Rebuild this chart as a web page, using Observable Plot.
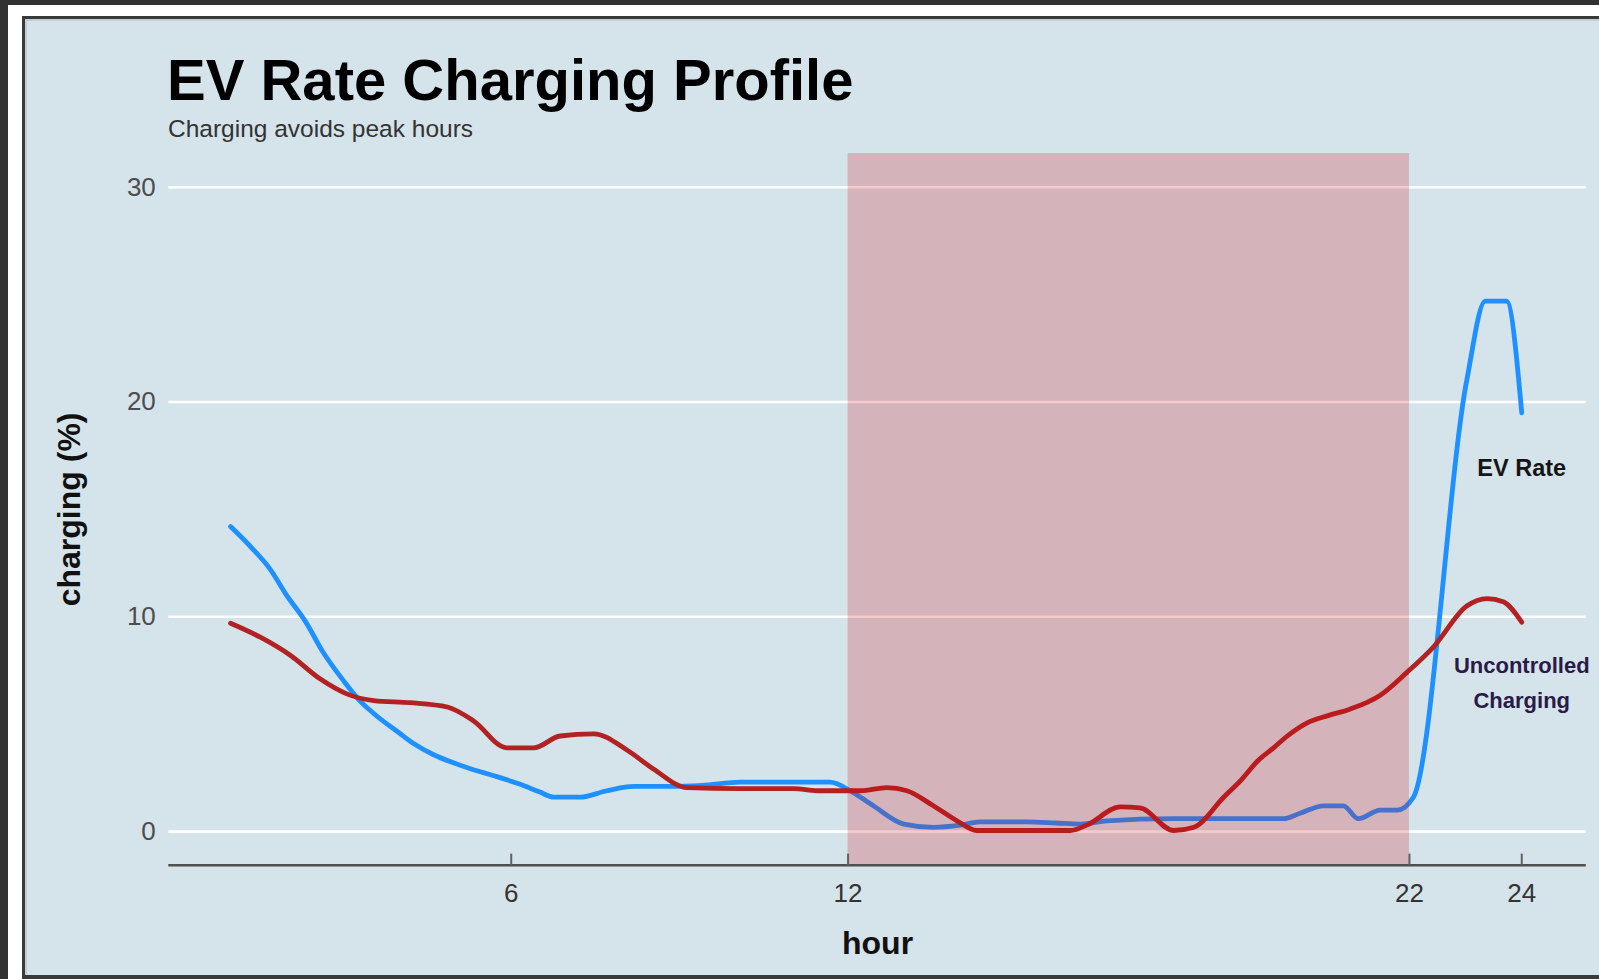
<!DOCTYPE html>
<html>
<head>
<meta charset="utf-8">
<script src="https://cdn.jsdelivr.net/npm/d3@7"></script>
<script src="https://cdn.jsdelivr.net/npm/@observablehq/plot@0.6"></script>
<style>
  html, body { margin: 0; padding: 0; }
  body { width: 1599px; height: 979px; overflow: hidden; position: relative; background: #323232; font-family: "Liberation Sans", Arial, sans-serif; }
  .abs { position: absolute; }
  #white { left: 8px; top: 5px; right: 0; bottom: 0; background: #ffffff; }
  #border { left: 22px; top: 16px; width: 1577px; height: 963px; background: #3a3a3a; }
  #panel { left: 25px; top: 19px; width: 1574px; height: 956px; background: #d5e3ea; box-shadow: inset 2px 2px 0 #c4cfd5; }
  #title { left: 167px; top: 51px; font-size: 58px; line-height: 58px; font-weight: bold; color: #000000; white-space: nowrap; }
  #subtitle { left: 168px; top: 117px; font-size: 24.5px; line-height: 24.5px; color: #333333; white-space: nowrap; }
  #chart { left: 0; top: 140px; }
</style>
</head>
<body>
<div id="white" class="abs"></div>
<div id="border" class="abs"></div>
<div id="panel" class="abs"></div>
<div id="title" class="abs">EV Rate Charging Profile</div>
<div id="subtitle" class="abs">Charging avoids peak hours</div>
<div id="chart" class="abs"></div>
<script>
// ---- data ----
const evHours = [1.0,1.38,1.71,2.0,2.33,2.66,3.02,3.3,3.55,4.0,4.26,4.6,4.97,5.3,5.69,6.16,6.5,6.76,7.23,7.7,8.18,8.83,9.4,10.08,11.68,12.04,12.45,12.99,13.52,14.0,14.35,15.19,15.7,16.14,16.61,17.8,19.76,20.05,20.47,20.82,21.09,21.48,21.78,22.07,23.02,23.35,23.73,24.0];
const evValues = [14.2,13.2,12.2,11.0,9.8,8.3,7.0,6.1,5.5,4.6,4.1,3.6,3.2,2.9,2.6,2.2,1.85,1.6,1.6,1.9,2.1,2.1,2.15,2.3,2.3,1.9,1.2,0.35,0.2,0.3,0.45,0.45,0.4,0.35,0.5,0.6,0.6,0.85,1.2,1.2,0.6,1.0,1.0,1.6,21.0,24.7,24.7,19.5];

const ucHours = [1.0,1.53,2.07,2.6,3.08,3.55,4.2,4.86,5.33,5.92,6.4,6.87,7.47,8.06,8.54,9.13,10.08,11.03,11.45,12.22,12.69,13.05,13.52,13.94,14.29,15.96,16.25,16.85,17.2,17.8,18.16,18.69,19.0,19.3,19.58,19.85,20.17,20.55,20.94,21.48,21.95,22.43,23.02,23.38,23.67,24.0];
const ucValues = [9.7,9.05,8.2,7.1,6.4,6.1,6.0,5.8,5.15,3.9,3.9,4.45,4.55,3.8,2.9,2.05,2.0,2.0,1.9,1.9,2.05,1.9,1.2,0.5,0.05,0.05,0.3,1.15,1.1,0.05,0.2,1.6,2.4,3.3,3.9,4.5,5.05,5.4,5.7,6.35,7.4,8.6,10.5,10.85,10.7,9.75];

const peakStart = 12;
const peakEnd = 22;

const xTicks = [6, 12, 22, 24];
const yTicks = [0, 10, 20, 30];

const evLabel = "EV Rate";
const evLabelHour = 24;
const evLabelValue = 16.9;
const ucLabel = "Uncontrolled\nCharging";
const ucLabelHour = 24;
const ucLabelValue = 7.1;

// ---- build tables ----
const ev = evHours.map((h, i) => ({hour: h, value: evValues[i]}));
const uc = ucHours.map((h, i) => ({hour: h, value: ucValues[i]}));

const xDomain = [-0.1, 25.15];
const yDomain = [-1.57, 31.57];

const font = "'Liberation Sans', Arial, sans-serif";

const chart = Plot.plot({
  width: 1599,
  height: 839,
  marginLeft: 168.3,
  marginRight: 13.2,
  marginTop: 13,
  marginBottom: 114.2,
  x: {domain: xDomain},
  y: {domain: yDomain},
  style: {background: "transparent", fontFamily: font, overflow: "visible"},
  marks: [
    Plot.ruleY(yTicks, {stroke: "#ffffff", strokeWidth: 2.6}),
    Plot.line(ev, {x: "hour", y: "value", stroke: "#1e90ff", strokeWidth: 4.8, curve: "monotone-x"}),
    Plot.line(uc, {x: "hour", y: "value", stroke: "#b22222", strokeWidth: 4.8, curve: "monotone-x"}),
    Plot.rect([{start: peakStart, end: peakEnd}], {x1: "start", x2: "end", y1: yDomain[0], y2: yDomain[1], fill: "#d70a14", fillOpacity: 0.22}),
    Plot.ruleY([yDomain[0]], {stroke: "#505050", strokeWidth: 2.4}),
    Plot.ruleX(xTicks, {y1: yDomain[0], y2: yDomain[0] + 0.52, stroke: "#606060", strokeWidth: 2}),
    Plot.axisX({ticks: xTicks, tickSize: 0, tickPadding: 18, fontSize: 26, fill: "#333333", label: null}),
    Plot.axisY({ticks: yTicks, tickSize: 0, tickPadding: 13, fontSize: 26, fill: "#4d4d4d", label: null}),
    Plot.text([{t: evLabel, hour: evLabelHour, value: evLabelValue}], {x: "hour", y: "value", text: "t", fill: "#151515", fontSize: 23.5, fontWeight: "bold", textAnchor: "middle", lineAnchor: "middle"}),
    Plot.text([{t: ucLabel, hour: ucLabelHour, value: ucLabelValue}], {x: "hour", y: "value", text: "t", fill: "#2a1a48", fontSize: 22, fontWeight: "bold", lineHeight: 1.6, textAnchor: "middle", lineAnchor: "middle"}),
    Plot.text(["hour"], {text: d => d, frameAnchor: "bottom", dy: 78.5, fontSize: 32, fontWeight: "bold", fill: "#111111", textAnchor: "middle", lineAnchor: "middle"}),
    Plot.text(["charging (%)"], {text: d => d, frameAnchor: "left", dx: -99.3, rotate: -90, fontSize: 32, fontWeight: "bold", fill: "#111111", textAnchor: "middle", lineAnchor: "middle"})
  ]
});

document.getElementById("chart").appendChild(chart);
</script>
</body>
</html>
